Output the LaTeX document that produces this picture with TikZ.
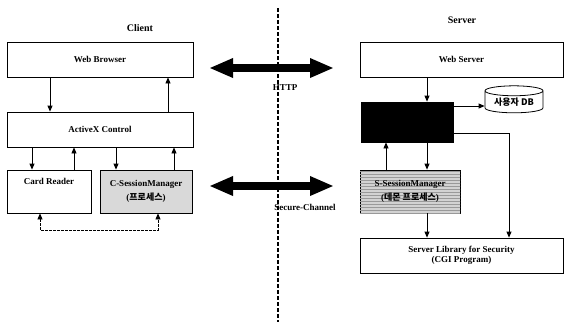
\documentclass[tikz,border=0pt]{standalone}
\usepackage{fontspec}
\setmainfont{Liberation Serif}
\newfontfamily\kr{Noto Sans CJK KR}
\usetikzlibrary{arrows.meta,shapes.geometric,patterns}
\begin{document}
\begin{tikzpicture}[x=1pt,y=-1pt,
  txt/.style={font=\bfseries\fontsize{9}{10.5}\selectfont,align=center,inner sep=0},
  box/.style={txt,draw,line width=0.8pt},
  conn/.style={line width=0.8pt,-{Triangle[length=6pt,width=5pt]}},
  dconn/.style={line width=0.8pt,dash pattern=on 2.5pt off 1.5pt,{Triangle[length=6pt,width=5pt]}-{Triangle[length=6pt,width=5pt]}},
  big/.style={line width=8pt,{Triangle[length=24pt,width=18pt]}-{Triangle[length=24pt,width=18pt]}},
  title/.style={font=\bfseries\fontsize{10}{12}\selectfont,inner sep=0}
]
\useasboundingbox (0,0) rectangle (565,322);
% divider
\coordinate (dtop) at (278,8);
\coordinate (dbot) at (278,322);
\draw[line width=1.6pt,dash pattern=on 4pt off 2pt] (dtop) -- (dbot);
% titles
\node[title] (client) at (140,28) {Client};
\node[title] (server) at (462,20) {Server};
% client boxes
\node[box,minimum width=186,minimum height=35] (wb) at (100,59.5) {Web Browser};
\node[box,minimum width=186,minimum height=35] (ax) at (100,129.5) {ActiveX Control};
\node[box,minimum width=84,minimum height=43] (cr) at (49,191.5) {Card Reader\\[10pt]\mbox{}};
\node[box,minimum width=92,minimum height=43,fill=gray!30] (cs) at (146,191.5) {C-SessionManager\\[3pt]({\kr 프로세스})};
% server boxes
\node[box,minimum width=203,minimum height=35] (ws) at (461.5,59.5) {Web Server};
\node[box,minimum width=92,minimum height=40,fill=black] (bk) at (407,122) {};
\node[txt,draw,line width=0.8pt,cylinder,shape border rotate=90,aspect=0.25,minimum width=58,minimum height=27] (db) at (514,102) {\kr\bfseries 사용자 DB};
\node[box,minimum width=100,minimum height=43,fill=gray!35,postaction={pattern=horizontal lines,pattern color=gray!80}] (ss) at (410,191.5) {S-SessionManager\\[3pt]({\kr 데몬 프로세스})};
\node[box,minimum width=203,minimum height=35] (sl) at (461.5,255.5) {Server Library for Security\\(CGI Program)};
% client connectors
\draw[conn] (wb.south -| 50,0) -- (ax.north -| 50,0);
\draw[conn] (ax.north -| 168,0) -- (wb.south -| 168,0);
\draw[conn] (ax.south -| 32,0) -- (cr.north -| 32,0);
\draw[conn] (cr.north -| 74,0) -- (ax.south -| 74,0);
\draw[conn] (ax.south -| 116,0) -- (cs.north -| 116,0);
\draw[conn] (cs.north -| 174,0) -- (ax.south -| 174,0);
\coordinate (dl) at (40,230);
\coordinate (dr) at (158,230);
\draw[dconn] (cr.south -| dl) -- (dl) -- (dr) -- (cs.south -| dr);
% server connectors
\draw[conn] (ws.south -| 427,0) -- (bk.north -| 427,0);
\draw[conn] (bk.east |- 0,106) -- (db.west |- 0,106);
\coordinate (br) at (509,133);
\draw[conn] (bk.east |- br) -- (br) -- (sl.north -| br);
\draw[conn] (ss.north -| 386,0) -- (bk.south -| 386,0);
\draw[conn] (bk.south -| 427,0) -- (ss.north -| 427,0);
\draw[conn] (ss.south -| 427,0) -- (sl.north -| 427,0);
% channel arrows
\coordinate (hl) at (209,68);
\coordinate (hr) at (334,68);
\draw[big] (hl) -- (hr);
\node[txt] (http) at (285,88) {HTTP};
\coordinate (sl1) at (209,186);
\coordinate (sr1) at (334,186);
\draw[big] (sl1) -- (sr1);
\node[txt] (sc) at (305,207) {Secure-Channel};
\end{tikzpicture}
\end{document}
